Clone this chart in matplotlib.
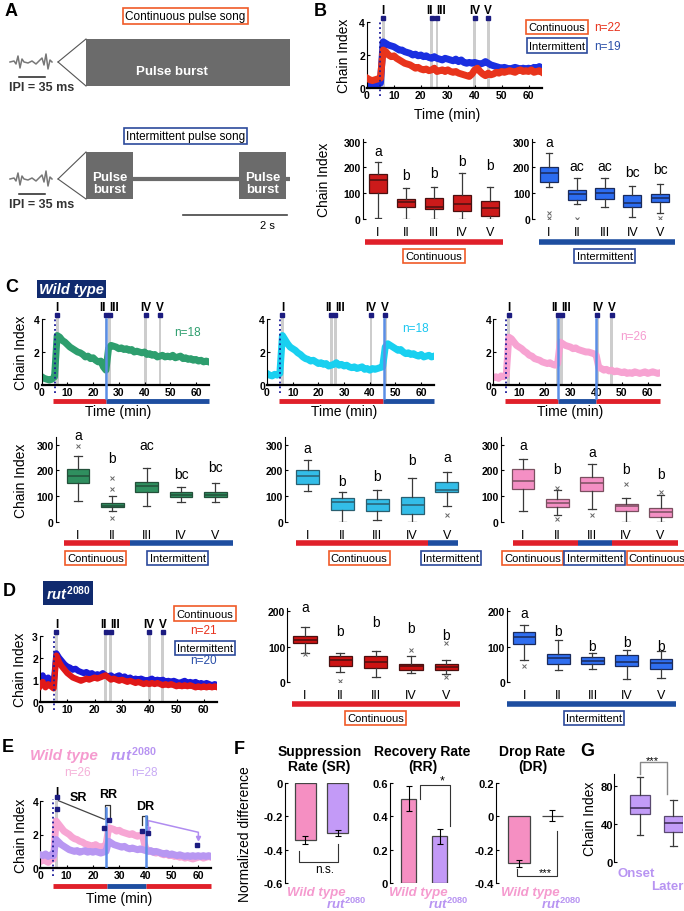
import numpy as np
import matplotlib
matplotlib.use('Agg')
import matplotlib.pyplot as plt
from matplotlib.patches import Rectangle

plt.rcParams['font.family'] = ['Liberation Sans', 'DejaVu Sans']
plt.rcParams['mathtext.fontset'] = 'custom'
plt.rcParams['mathtext.it'] = 'Liberation Sans:italic:bold'
plt.rcParams['mathtext.rm'] = 'Liberation Sans:bold'
plt.rcParams['mathtext.bf'] = 'Liberation Sans:bold'

# ---------------- data ----------------
minutes = np.arange(66)
epoch_names = ['I', 'II', 'III', 'IV', 'V']
epochs_B = [6, 24, 26, 40, 45]
epochs_C = [6, 25, 26.5, 40.5, 46]

b_cont = [0.6, 0.5, 0.45, 0.5, 0.55, 0.6, 2.3, 2.2, 2.0, 1.9, 1.95, 1.8, 1.7, 1.6, 1.5, 1.45, 1.4, 1.3, 1.2, 1.25,
          1.15, 1.1, 1.15, 1.05, 1.1, 1.2, 1.0, 1.05, 1.1, 1.0, 1.1, 1.0, 0.95, 1.0, 0.9, 0.85, 0.8, 0.75, 0.7, 0.85,
          1.1, 1.2, 1.0, 0.85, 0.75, 0.9, 0.8, 0.85, 0.95, 0.9, 1.0, 0.95, 1.0, 1.05, 1.0, 0.95, 1.05, 1.1, 1.0, 1.05,
          1.0, 1.1, 0.95, 1.0, 1.05, 0.95]
b_int = [0.2, 0.15, 0.2, 0.25, 0.2, 0.3, 2.8, 2.7, 2.6, 2.55, 2.5, 2.4, 2.3, 2.3, 2.2, 2.15, 2.1, 2.0, 2.05, 1.95,
         2.0, 1.9, 1.95, 1.85, 1.8, 1.9, 1.8, 1.75, 1.7, 1.8, 1.75, 1.7, 1.65, 1.75, 1.6, 1.7, 1.55, 1.5, 1.55, 1.5,
         1.55, 1.5, 1.45, 1.5, 1.6, 1.5, 1.4, 1.35, 1.3, 1.25, 1.2, 1.25, 1.2, 1.15, 1.2, 1.25, 1.2, 1.15, 1.2, 1.15,
         1.2, 1.15, 1.25, 1.2, 1.3, 1.2]
c_green = [0.5, 0.4, 0.35, 0.3, 0.35, 0.5, 3.0, 2.9, 2.7, 2.6, 2.45, 2.3, 2.2, 2.1, 2.0, 1.95, 1.85, 1.7, 1.75, 1.6,
           1.65, 1.5, 1.4, 1.45, 1.1, 0.9, 2.2, 2.4, 2.35, 2.3, 2.2, 2.25, 2.15, 2.2, 2.1, 2.15, 2.0, 2.05, 2.0, 1.95,
           2.0, 1.85, 1.9, 1.8, 1.85, 1.7, 1.75, 1.8, 1.7, 1.75, 1.7, 1.8, 1.65, 1.7, 1.75, 1.6, 1.65, 1.55, 1.6, 1.5,
           1.55, 1.45, 1.5, 1.4, 1.45, 1.4]
c_cyan = [0.7, 0.6, 0.55, 0.65, 0.6, 0.7, 3.0, 2.75, 2.5, 2.3, 2.2, 2.1, 1.95, 1.85, 1.7, 1.6, 1.55, 1.45, 1.5, 1.4,
          1.3, 1.35, 1.25, 1.3, 1.15, 1.2, 1.25, 1.35, 1.2, 1.25, 1.15, 1.2, 1.1, 1.05, 1.1, 1.0, 1.05, 1.1, 0.95, 1.0,
          0.9, 1.0, 0.95, 1.0, 1.05, 1.1, 2.3, 2.5, 2.4, 2.3, 2.2, 2.1, 2.15, 2.0, 1.9, 1.95, 1.85, 1.9, 1.8, 1.75,
          1.85, 1.7, 1.75, 1.8, 1.7, 1.75]
c_pink = [0.45, 0.5, 0.4, 0.55, 0.5, 0.6, 2.9, 2.8, 2.6, 2.4, 2.3, 2.2, 2.05, 1.95, 1.8, 1.75, 1.6, 1.55, 1.5, 1.4,
          1.35, 1.3, 1.35, 1.25, 1.2, 1.3, 2.6, 2.5, 2.4, 2.35, 2.3, 2.2, 2.25, 2.15, 2.1, 2.05, 2.0, 2.0, 1.95, 1.9,
          1.8, 1.05, 1.0, 0.9, 0.95, 0.85, 0.9, 0.8, 0.85, 0.8, 0.75, 0.8, 0.7, 0.75, 0.7, 0.8, 0.75, 0.7, 0.75, 0.8,
          0.7, 0.75, 0.8, 0.75, 0.7, 0.75]
d_int = [0.9, 1.2, 0.8, 1.1, 0.9, 0.8, 2.2, 2.0, 1.85, 1.7, 1.6, 1.55, 1.45, 1.5, 1.4, 1.35, 1.3, 1.35, 1.25, 1.3,
         1.2, 1.25, 1.2, 1.3, 1.2, 1.15, 1.2, 1.1, 1.15, 1.2, 1.1, 1.15, 1.05, 1.1, 1.0, 1.05, 1.0, 1.05, 1.0, 0.95,
         1.0, 1.05, 0.95, 1.0, 0.95, 1.0, 0.9, 0.95, 0.9, 0.95, 0.9, 0.85, 0.9, 0.95, 0.85, 0.9, 0.85, 0.9, 0.8, 0.85,
         0.8, 0.85, 0.8, 0.75, 0.8, 0.75]
d_cont = [0.7, 0.9, 0.65, 0.8, 0.7, 0.6, 2.1, 1.8, 1.6, 1.45, 1.3, 1.2, 1.1, 1.05, 1.0, 0.95, 1.0, 1.05, 1.0, 1.05,
          1.1, 1.05, 1.1, 1.15, 1.2, 1.1, 1.0, 1.05, 1.0, 0.95, 1.0, 0.95, 0.9, 0.95, 0.9, 0.85, 0.9, 0.85, 0.8, 0.85,
          0.8, 0.85, 0.8, 0.85, 0.8, 0.75, 0.8, 0.75, 0.8, 0.75, 0.7, 0.75, 0.7, 0.75, 0.7, 0.75, 0.7, 0.65, 0.7, 0.65,
          0.7, 0.65, 0.7, 0.65, 0.7, 0.65]
e_wt = [0.4, 0.5, 0.45, 0.35, 0.5, 0.55, 2.8, 2.6, 2.4, 2.2, 2.1, 2.0, 1.85, 1.75, 1.7, 1.6, 1.55, 1.45, 1.4, 1.35,
        1.3, 1.4, 1.3, 1.25, 1.3, 1.4, 2.4, 2.35, 2.3, 2.2, 2.25, 2.15, 2.1, 2.05, 2.0, 2.05, 1.95, 1.9, 1.95, 1.85,
        1.2, 1.05, 1.0, 0.95, 0.9, 0.95, 0.85, 0.8, 0.85, 0.75, 0.8, 0.7, 0.75, 0.65, 0.7, 0.6, 0.65, 0.6, 0.55, 0.6,
        0.65, 0.7, 0.6, 0.65, 0.7, 0.65]
e_rut = [0.8, 0.75, 0.85, 0.7, 0.8, 0.75, 1.7, 1.55, 1.4, 1.3, 1.2, 1.1, 1.05, 1.0, 1.05, 0.95, 1.0, 1.05, 0.95, 1.0,
         0.95, 1.0, 0.95, 0.9, 0.95, 1.0, 1.6, 1.5, 1.4, 1.35, 1.3, 1.25, 1.3, 1.2, 1.15, 1.2, 1.15, 1.1, 1.15, 1.1,
         1.05, 1.0, 1.05, 0.95, 1.0, 0.95, 0.9, 0.85, 0.9, 0.8, 0.85, 0.8, 0.75, 0.8, 0.75, 0.7, 0.75, 0.7, 0.75, 0.7,
         0.75, 0.7, 0.75, 0.7, 0.75, 0.7]

# box plots: median, q1, q3, whisker low, whisker high, fliers, letters, letter heights
bc_med = [150, 65, 47, 57, 43]
bc_q1 = [100, 45, 38, 30, 12]
bc_q3 = [175, 78, 80, 92, 70]
bc_lo = [5, 0, 0, 0, 0]
bc_hi = [220, 120, 123, 180, 125]
bc_fl = [[], [], [], [], []]
bc_let = ['a', 'b', 'b', 'b', 'b']
bc_ly = [265, 170, 178, 226, 210]

bi_med = [180, 98, 102, 62, 83]
bi_q1 = [143, 75, 78, 45, 67]
bi_q3 = [200, 112, 120, 93, 98]
bi_lo = [125, 57, 47, 8, 25]
bi_hi = [255, 160, 157, 128, 135]
bi_fl = [[25, 5], [0], [], [], [5]]
bi_let = ['a', 'ac', 'ac', 'bc', 'bc']
bi_ly = [297, 207, 207, 182, 192]

cg_med = [180, 63, 140, 105, 104]
cg_q1 = [152, 56, 115, 95, 95]
cg_q3 = [204, 72, 155, 117, 117]
cg_lo = [79, 40, 60, 75, 78]
cg_hi = [257, 100, 208, 137, 150]
cg_fl = [[295], [172, 127, 15], [], [], []]
cg_let = ['a', 'b', 'ac', 'bc', 'bc']
cg_ly = [339, 250, 300, 186, 214]

cc_med = [178, 75, 68, 65, 125]
cc_q1 = [145, 47, 42, 30, 115]
cc_q3 = [200, 92, 88, 95, 153]
cc_lo = [119, 0, 8, 0, 60]
cc_hi = [240, 115, 125, 172, 195]
cc_fl = [[], [], [], [], [25]]
cc_let = ['a', 'b', 'b', 'b', 'a']
cc_ly = [286, 160, 180, 240, 251]

cp_med = [160, 72, 150, 60, 37]
cp_q1 = [128, 57, 118, 40, 20]
cp_q3 = [205, 88, 173, 68, 55]
cp_lo = [42, 28, 50, 0, 0]
cp_hi = [245, 122, 225, 92, 103]
cp_fl = [[], [132, 10], [28], [145], [115]]
cp_let = ['a', 'b', 'a', 'b', 'b']
cp_ly = [299, 205, 271, 206, 184]

dc_med = [118, 62, 57, 45, 43]
dc_q1 = [110, 47, 40, 35, 35]
dc_q3 = [130, 73, 75, 52, 50]
dc_lo = [82, 28, 15, 25, 22]
dc_hi = [155, 83, 88, 75, 63]
dc_fl = [[80], [5], [], [92], [110, 15]]
dc_let = ['a', 'b', 'b', 'b', 'b']
dc_ly = [211, 145, 169, 152, 133]

di_med = [128, 67, 60, 58, 55]
di_q1 = [107, 52, 52, 45, 38]
di_q3 = [142, 80, 72, 78, 65]
di_lo = [62, 35, 38, 8, 13]
di_hi = [162, 118, 83, 92, 88]
di_fl = [[45], [], [], [], []]
di_let = ['a', 'b', 'b', 'b', 'b']
di_ly = [195, 145, 103, 113, 101]

# panel F: normalized differences (wild type, rut2080) and SEM
sr_vals, sr_err = [-0.34, -0.30], [0.022, 0.018]
rr_vals, rr_err = [0.505, 0.28], [0.075, 0.045]
dr_vals, dr_err = [-0.28, 0.005], [0.02, 0.035]

# panel G: onset vs later
g_med = [57, 41]
g_q1 = [50, 32]
g_q3 = [70, 48]
g_lo = [28, 17]
g_hi = [89, 65]

# colours
RED_BAR, BLUE_BAR = '#e0202a', '#1e4ea0'
CONT_EC, INT_EC = '#f05a28', '#2c4a9c'
NAVY = '#1c1c80'
PINK, LAV = '#f59bcf', '#b894f2'
TS_LW = 5.0

W, H = 684, 912
fig = plt.figure(figsize=(W / 100, H / 100), dpi=100)


def add_ax(x0, y0, x1, y1):
    return fig.add_axes([x0 / W, 1 - y1 / H, (x1 - x0) / W, (y1 - y0) / H])


def ftext(x, y, s, **kw):
    kw.setdefault('ha', 'center')
    kw.setdefault('va', 'center')
    return fig.text(x / W, 1 - y / H, s, **kw)


def label_box(ax, x, y, s, ec, trans=None, fs=8):
    ax.text(x, y, s, ha='center', va='center', fontsize=fs, clip_on=False,
            transform=trans if trans is not None else ax.get_xaxis_transform(),
            bbox=dict(boxstyle='square,pad=0.2', fc='white', ec=ec, lw=1.2))


def ts_axes(ax, ymax, yticks, ylab_x):
    ax.set_xlim(0, 65)
    ax.set_ylim(0, ymax)
    for s in ('top', 'right'):
        ax.spines[s].set_visible(False)
    ax.spines['left'].set_linewidth(0.8)
    ax.spines['bottom'].set_linewidth(1.6)
    xt = list(range(0, 61, 10))
    ax.set_xticks(xt, [str(v) for v in xt], fontweight='bold', fontsize=7.5)
    ax.set_yticks(yticks, [str(v) for v in yticks], fontweight='bold', fontsize=7.5)
    ax.tick_params(direction='in', length=2.5, width=0.8, pad=1.5)
    ax.set_ylabel('Chain Index', fontsize=10)
    ax.yaxis.set_label_coords(ylab_x, 0.5)


def draw_epochs(ax, times, show_labels=True):
    tr = ax.get_xaxis_transform()
    mid23 = (times[1] + times[2]) / 2
    xs = [times[0], mid23 - 0.7, mid23 + 0.7, times[3], times[4]]
    has = ['center', 'right', 'left', 'center', 'center']
    for t, lab, x, ha in zip(times, epoch_names, xs, has):
        sp = ax.axvspan(t - 0.55, t + 0.55, ymin=0, ymax=1.05, color='#cdcdcd', lw=0, zorder=0.5)
        sp.set_clip_on(False)
        if show_labels:
            ax.plot([t], [1.06], marker='s', ms=2.2, color=NAVY, transform=tr, clip_on=False)
            ax.text(x, 1.18, lab, ha=ha, va='center', fontsize=8.5, fontweight='bold', transform=tr)


def onset_line(ax):
    ax.plot([5, 5], [-0.12, 1.03], ls=':', color='#1c1c9a', lw=1.3,
            transform=ax.get_xaxis_transform(), clip_on=False, zorder=5)


def switch_line(ax, t, top=1.0):
    ax.plot([t, t], [-0.2, top], color='#5a8ee6', lw=1.8,
            transform=ax.get_xaxis_transform(), clip_on=False, zorder=4)


def cond_bar(ax, segs, y, lw=3.2):
    for a, b, c in segs:
        ax.plot([a, b], [y, y], color=c, lw=lw, solid_capstyle='butt',
                transform=ax.get_xaxis_transform(), clip_on=False)


def time_label(ax, y):
    ax.set_xlabel('Time (min)', fontsize=10)
    ax.xaxis.set_label_coords(0.46, y)


def box_panel(ax, med, q1, q3, lo, hi, fl, face, edge, xlim, ymax, yticks, letters, ly):
    stats = [dict(med=m, q1=a, q3=b, whislo=l, whishi=h, fliers=f)
             for m, a, b, l, h, f in zip(med, q1, q3, lo, hi, fl)]
    pos = np.arange(1, len(med) + 1)
    ax.bxp(stats, positions=pos, widths=0.66, patch_artist=True,
           boxprops=dict(facecolor=face, edgecolor=edge, linewidth=0.9),
           medianprops=dict(color=edge, linewidth=1.1),
           whiskerprops=dict(color='#3a3a3a', linewidth=0.9),
           capprops=dict(color='#3a3a3a', linewidth=0.9),
           flierprops=dict(marker='x', markersize=2.5, markeredgecolor='#666666', markeredgewidth=0.7),
           capwidths=0.22)
    ax.set_xlim(*xlim)
    ax.set_ylim(0, ymax)
    for s in ('top', 'right', 'bottom'):
        ax.spines[s].set_visible(False)
    ax.spines['left'].set_linewidth(0.8)
    ax.set_xticks(pos, ['I', 'II', 'III', 'IV', 'V'], fontsize=9)
    ax.set_yticks(yticks, [str(v) for v in yticks], fontweight='bold', fontsize=7.5)
    ax.tick_params(axis='x', length=0, pad=5)
    ax.tick_params(axis='y', direction='in', length=2.5, width=0.8, pad=1.5)
    for p, s, y in zip(pos, letters, ly):
        ax.text(p, y, s, ha='center', va='center', fontsize=10, clip_on=False)


# ---------------- panel A ----------------
axA = add_ax(0, 0, 310, 280)
axA.set_xlim(0, 310)
axA.set_ylim(280, 0)
axA.axis('off')
wave_dx = [0, 4, 6, 8, 10, 12, 14, 18, 22, 26, 30, 32, 34, 36, 38, 40, 42]
wave_dy = [0, -1, 2, -6, 6, -3, 0, 1, -1, 2, -2, -4, 3, -8, 7, -2, 0]


def song_icon(yc, y_top, y_bot):
    axA.plot([10 + d for d in wave_dx], [yc + d for d in wave_dy], color='#777777', lw=1.1)
    axA.plot([58, 86], [yc, y_top], color='#555555', lw=0.8)
    axA.plot([58, 86], [yc, y_bot], color='#555555', lw=0.8)
    axA.plot([19, 45], [yc + 15, yc + 15], color='#222222', lw=1.1)
    axA.text(42, yc + 25, 'IPI = 35 ms', ha='center', va='center', fontsize=9, fontweight='bold', color='#333333')


label_box(axA, 185.5, 17, 'Continuous pulse song', CONT_EC, trans=axA.transData, fs=8.5)
axA.add_patch(Rectangle((86, 40), 204, 47, fc='#6b6b6b', ec='none'))
axA.text(172, 72, 'Pulse burst', ha='center', va='center', color='white', fontsize=9.5, fontweight='bold')
song_icon(63, 40, 87)

label_box(axA, 185.5, 137, 'Intermittent pulse song', INT_EC, trans=axA.transData, fs=8.5)
axA.plot([133, 290], [180, 180], color='#6b6b6b', lw=3, solid_capstyle='butt')
for x0 in (86, 239):
    axA.add_patch(Rectangle((x0, 153), 47, 47, fc='#6b6b6b', ec='none'))
    axA.text(x0 + 23.5, 184, 'Pulse\nburst', ha='center', va='center', color='white',
             fontsize=9.5, fontweight='bold', linespacing=1.1)
song_icon(180, 153, 200)
axA.plot([183, 287], [216, 216], color='#444444', lw=1.2)
axA.text(267, 226, '2 s', ha='center', va='center', fontsize=8)

ftext(11, 12, 'A', fontsize=13, fontweight='bold')

# ---------------- panel B ----------------
ftext(320, 12, 'B', fontsize=13, fontweight='bold')
axB = add_ax(367, 23, 542, 89)
axB.plot(minutes, b_int, color='#1a2fe0', lw=TS_LW, zorder=2)
axB.plot(minutes, b_cont, color='#e8341c', lw=TS_LW, zorder=3)
ts_axes(axB, 4, [0, 2, 4], -0.09)
draw_epochs(axB, epochs_B)
onset_line(axB)
time_label(axB, -0.29)
ftext(557, 28, 'Continuous', fontsize=8,
      bbox=dict(boxstyle='square,pad=0.2', fc='white', ec=CONT_EC, lw=1.2))
ftext(594, 28, 'n=22', ha='left', fontsize=8.5, color='#e8321c')
ftext(557, 46.5, 'Intermittent', fontsize=8,
      bbox=dict(boxstyle='square,pad=0.2', fc='white', ec=INT_EC, lw=1.2))
ftext(594, 46.5, 'n=19', ha='left', fontsize=8.5, color='#2a4fa8')

axB1 = add_ax(362.6, 140, 504, 220)
box_panel(axB1, bc_med, bc_q1, bc_q3, bc_lo, bc_hi, bc_fl, '#cc1a1a', '#4a1010',
          (0.45, 5.5), 310, [0, 100, 200, 300], bc_let, bc_ly)
axB1.set_ylabel('Chain Index', fontsize=10)
axB1.yaxis.set_label_coords(-0.22, 0.5)
cond_bar(axB1, [(0.55, 5.45, RED_BAR)], -0.29, lw=4)
label_box(axB1, 3, -0.46, 'Continuous', CONT_EC)

axB2 = add_ax(532.3, 140, 674, 220)
box_panel(axB2, bi_med, bi_q1, bi_q3, bi_lo, bi_hi, bi_fl, '#2c6cf0', '#1a2a5a',
          (0.4, 5.5), 310, [0, 100, 200, 300], bi_let, bi_ly)
cond_bar(axB2, [(0.65, 5.55, BLUE_BAR)], -0.29, lw=4)
label_box(axB2, 3, -0.46, 'Intermittent', INT_EC)

# ---------------- panel C ----------------
ftext(12, 288, 'C', fontsize=13, fontweight='bold')
ftext(71.5, 290, 'Wild type', fontsize=10.5, fontweight='bold', fontstyle='italic', color='white',
      bbox=dict(boxstyle='square,pad=0.15', fc='#102a6e', ec='none'))

c_specs = [
    (41.7, c_green, '#2e9e6e', [(4.5, 25, RED_BAR), (25, 65, BLUE_BAR)], [25], (187, 333, 'n=18', '#2e9e6e')),
    (267.0, c_cyan, '#19d0f0', [(4.5, 45, RED_BAR), (45, 65, BLUE_BAR)], [45.5], (415, 329, 'n=18', '#19c6f0')),
    (493.4, c_pink, '#f7a3d2', [(4.5, 25, RED_BAR), (25, 40, BLUE_BAR), (40, 65, RED_BAR)], [25, 40],
     (633, 337, 'n=26', '#f59bcf')),
]
for i, (x0, ser, col, segs, sw, ntxt) in enumerate(c_specs):
    ax = add_ax(x0, 320, x0 + 65 * 2.57, 386)
    ax.plot(minutes, ser, color=col, lw=TS_LW, zorder=2)
    ts_axes(ax, 4, [0, 2, 4], -0.082)
    if i > 0:
        ax.set_ylabel('')
    draw_epochs(ax, epochs_C)
    onset_line(ax)
    for t in sw:
        switch_line(ax, t)
    cond_bar(ax, segs, -0.24, lw=3.5)
    time_label(ax, -0.29)
    ftext(ntxt[0], ntxt[1], ntxt[2], fontsize=8.5, color=ntxt[3])

axC1 = add_ax(55.7, 438, 234.3, 522.7)
box_panel(axC1, cg_med, cg_q1, cg_q3, cg_lo, cg_hi, cg_fl, '#2f8f5f', '#23503a',
          (0.35, 5.55), 330, [0, 100, 200, 300], cg_let, cg_ly)
axC1.set_ylabel('Chain Index', fontsize=10)
axC1.yaxis.set_label_coords(-0.155, 0.5)
cond_bar(axC1, [(0.58, 2.5, RED_BAR), (2.5, 5.5, BLUE_BAR)], -0.25, lw=4)
label_box(axC1, 1.52, -0.43, 'Continuous', CONT_EC)
label_box(axC1, 3.9, -0.43, 'Intermittent', INT_EC)

axC2 = add_ax(285, 438, 466, 522.7)
box_panel(axC2, cc_med, cc_q1, cc_q3, cc_lo, cc_hi, cc_fl, '#33bde8', '#2a5f70',
          (0.35, 5.55), 330, [0, 100, 200, 300], cc_let, cc_ly)
cond_bar(axC2, [(0.68, 4.45, RED_BAR), (4.45, 5.33, BLUE_BAR)], -0.25, lw=4)
label_box(axC2, 2.48, -0.43, 'Continuous', CONT_EC)
label_box(axC2, 5.12, -0.43, 'Intermittent', INT_EC)

axC3 = add_ax(500.6, 438, 679.5, 522.7)
box_panel(axC3, cp_med, cp_q1, cp_q3, cp_lo, cp_hi, cp_fl, '#f48fc4', '#7a5060',
          (0.35, 5.55), 330, [0, 100, 200, 300], cp_let, cp_ly)
cond_bar(axC3, [(0.7, 2.6, RED_BAR), (2.6, 3.6, BLUE_BAR), (3.6, 5.5, RED_BAR)], -0.25, lw=4)
label_box(axC3, 1.27, -0.43, 'Continuous', CONT_EC)
label_box(axC3, 3.08, -0.43, 'Intermittent', INT_EC)
label_box(axC3, 4.9, -0.43, 'Continuous', CONT_EC)

# ---------------- panel D ----------------
ftext(9, 592, 'D', fontsize=13, fontweight='bold')
ftext(68, 594, r'$\mathit{rut^{2080}}$', fontsize=10.5, color='white',
      bbox=dict(boxstyle='square,pad=0.2', fc='#102a6e', ec='none'))
axD = add_ax(40, 636.7, 40 + 65 * 2.73, 702.7)
axD.plot(minutes, d_int, color='#1a1ad8', lw=4.4, zorder=2)
axD.plot(minutes, d_cont, color='#e01818', lw=4.4, zorder=3)
ts_axes(axD, 3, [0, 1, 2, 3], -0.076)
draw_epochs(axD, epochs_B)
onset_line(axD)
ftext(205, 614.5, 'Continuous', fontsize=8,
      bbox=dict(boxstyle='square,pad=0.2', fc='white', ec=CONT_EC, lw=1.2))
ftext(203, 631, 'n=21', fontsize=8.5, color='#e8321c')
ftext(205, 649, 'Intermittent', fontsize=8,
      bbox=dict(boxstyle='square,pad=0.2', fc='white', ec=INT_EC, lw=1.2))
ftext(203, 661, 'n=20', fontsize=8.5, color='#2a4fa8')

axD1 = add_ax(287.4, 608.5, 463.9, 683.3)
box_panel(axD1, dc_med, dc_q1, dc_q3, dc_lo, dc_hi, dc_fl, '#cc1212', '#4a1010',
          (0.5, 5.5), 210, [0, 100, 200], dc_let, dc_ly)
cond_bar(axD1, [(0.64, 5.38, RED_BAR)], -0.29, lw=4)
label_box(axD1, 3, -0.48, 'Continuous', CONT_EC)

axD2 = add_ax(507, 608.5, 677.9, 683.3)
box_panel(axD2, di_med, di_q1, di_q3, di_lo, di_hi, di_fl, '#2f6ef0', '#1a2a5a',
          (0.5, 5.5), 210, [0, 100, 200], di_let, di_ly)
cond_bar(axD2, [(0.5, 5.45, BLUE_BAR)], -0.29, lw=4)
label_box(axD2, 3.05, -0.48, 'Intermittent', INT_EC)

# ---------------- panel E ----------------
ftext(8, 748, 'E', fontsize=13, fontweight='bold')
ftext(63.5, 756, 'Wild type', fontsize=11, fontweight='bold', fontstyle='italic', color=PINK)
ftext(133, 755, r'$\mathit{rut^{2080}}$', fontsize=11, color=LAV)
ftext(77, 773, 'n=26', fontsize=8.5, color='#f5b0d8')
ftext(144, 773, 'n=28', fontsize=8.5, color='#c8aaf5')

axE = add_ax(40.3, 801.7, 40.3 + 65 * 2.63, 869.3)
axE.plot(minutes, e_wt, color='#f7a6d4', lw=TS_LW, zorder=2)
axE.plot(minutes, e_rut, color='#b897f2', lw=TS_LW, zorder=3)
ts_axes(axE, 4, [0, 2, 4], -0.072)
sp = axE.axvspan(5.6, 6.6, color='#cdcdcd', lw=0, zorder=0.5)
onset_line(axE)
axE.plot([25, 25], [0, 3.55], color='#5a8ee6', lw=1.8, zorder=4)
axE.plot([40, 40], [0, 3.1], color='#5a8ee6', lw=1.8, zorder=4)
cond_bar(axE, [(5, 25.5, RED_BAR), (25.5, 40, BLUE_BAR), (40, 65, RED_BAR)], -0.26, lw=3.5)
time_label(axE, -0.34)
# SR / RR / DR annotations
ann_t = [6.2, 6.5, 24.3, 26.1, 38.5, 41.1, 59.7]
ann_v = [4.2, 3.5, 2.38, 2.88, 2.2, 2.07, 1.4]
axE.plot(ann_t, ann_v, ls='none', marker='s', ms=2.4, color=NAVY, clip_on=False, zorder=6)
axE.plot([6.9, 24.3], [4.0, 2.9], color='#444444', lw=0.9, clip_on=False)
axE.plot([24.6, 24.6, 26.5, 26.5], [3.0, 3.75, 3.75, 3.0], color='#333333', lw=0.9, clip_on=False)
axE.plot([38.5, 38.5, 40.5, 40.5], [2.55, 3.1, 3.1, 2.55], color='#333333', lw=0.9, clip_on=False)
axE.plot([41.1, 41.1, 60.1, 60.1], [2.3, 2.82, 2.13, 1.78], color='#b08cf0', lw=1.1, clip_on=False)
axE.plot([41.1, 60.1], [2.3, 1.78], ls='none', marker='v', ms=3, color='#b08cf0', clip_on=False)
axE.text(6.2, 4.5, 'I', ha='center', va='center', fontsize=8.5, fontweight='bold')
axE.text(14.5, 4.2, 'SR', ha='center', va='center', fontsize=9, fontweight='bold')
axE.text(25.9, 4.4, 'RR', ha='center', va='center', fontsize=9, fontweight='bold')
axE.text(39.8, 3.7, 'DR', ha='center', va='center', fontsize=9, fontweight='bold')

# ---------------- panel F ----------------
ftext(239, 750, 'F', fontsize=13, fontweight='bold')
BAR_FACES = ['#f58fc2', '#c39af7']


def bar_panel(ax, vals, errs, ylim, yticks, width, title):
    ax.bar([1, 2], vals, width=width, color=BAR_FACES, edgecolor='#444444', linewidth=0.9)
    ax.errorbar([1, 2], vals, yerr=errs, fmt='none', ecolor='black', elinewidth=0.8, capsize=2, capthick=0.8)
    ax.set_ylim(*ylim)
    for s in ('top', 'right', 'bottom'):
        ax.spines[s].set_visible(False)
    ax.spines['left'].set_linewidth(0.8)
    ax.set_xticks([])
    labs = ['0' if abs(v) < 1e-9 else f'{v:.1f}' for v in yticks]
    ax.set_yticks(yticks, labs, fontweight='bold', fontsize=8)
    ax.tick_params(axis='y', direction='in', length=2.5, width=0.8, pad=1.5)
    ax.set_title(title, fontsize=10, fontweight='bold', pad=9, linespacing=1.15)
    tr = ax.get_xaxis_transform()
    ax.text(1.33, -0.09, 'Wild type', ha='center', va='center', fontsize=9.5, fontweight='bold',
            fontstyle='italic', color=PINK, transform=tr, clip_on=False)
    ax.text(2.28, -0.2, r'$\mathit{rut^{2080}}$', ha='center', va='center', fontsize=9.5,
            color=LAV, transform=tr, clip_on=False)


axF1 = add_ax(284.9, 784, 353.9, 884.3)
bar_panel(axF1, sr_vals, sr_err, (-0.6, 0), [0, -0.2, -0.4, -0.6], 0.65, 'Suppression\nRate (SR)')
axF1.set_xlim(0.37, 2.5)
axF1.set_ylabel('Normalized difference', fontsize=10)
axF1.yaxis.set_label_coords(-0.48, 0.5)
axF1.plot([0.82, 0.82, 2.0, 2.0], [-0.405, -0.474, -0.474, -0.365], color='#333333', lw=0.8)
axF1.text(1.61, -0.514, 'n.s.', ha='center', va='center', fontsize=8.5)

axF2 = add_ax(390, 784, 455, 884.3)
bar_panel(axF2, rr_vals, rr_err, (0, 0.6), [0, 0.2, 0.4, 0.6], 0.46, 'Recovery Rate\n(RR)')
axF2.set_xlim(0.4, 2.5)
axF2.plot([1.36, 1.36, 2.34, 2.34], [0.504, 0.588, 0.588, 0.345], color='#333333', lw=0.8, clip_on=False)
axF2.text(2.07, 0.615, '*', ha='center', va='center', fontsize=9, clip_on=False)

axF3 = add_ax(496, 784, 569, 884.3)
bar_panel(axF3, dr_vals, dr_err, (-0.4, 0.2), [-0.4, -0.2, 0, 0.2], 0.65, 'Drop Rate\n(DR)')
axF3.set_xlim(0.31, 2.5)
axF3.plot([0.95, 0.95, 2.15, 2.15], [-0.314, -0.354, -0.354, -0.085], color='#333333', lw=0.8)
axF3.text(1.78, -0.334, '***', ha='center', va='center', fontsize=8)

# ---------------- panel G ----------------
ftext(587, 752, 'G', fontsize=13, fontweight='bold')
axG = add_ax(614.3, 775, 683.3, 863.3)
g_stats = [dict(med=m, q1=a, q3=b, whislo=l, whishi=h, fliers=[])
           for m, a, b, l, h in zip(g_med, g_q1, g_q3, g_lo, g_hi)]
axG.bxp(g_stats, positions=[1, 2], widths=0.58, patch_artist=True,
        boxprops=dict(facecolor='#c29cf7', edgecolor='#5a4a70', linewidth=0.9),
        medianprops=dict(color='#3a2a50', linewidth=1.1),
        whiskerprops=dict(color='#3a3a3a', linewidth=0.9),
        capprops=dict(color='#3a3a3a', linewidth=0.9), capwidths=0.2)
axG.set_xlim(0.23, 2.3)
axG.set_ylim(0, 92)
for s in ('top', 'right', 'bottom'):
    axG.spines[s].set_visible(False)
axG.spines['left'].set_linewidth(0.8)
axG.set_xticks([])
axG.set_yticks([0, 40, 80], ['0', '40', '80'], fontweight='bold', fontsize=8)
axG.tick_params(axis='y', direction='in', length=2.5, width=0.8, pad=1.0)
axG.set_ylabel('Chain Index', fontsize=10)
axG.yaxis.set_label_coords(-0.25, 0.5)
axG.plot([1, 1, 1.8, 1.8], [91.5, 104.3, 104.3, 71.3], color='#888888', lw=1.0, clip_on=False)
axG.text(1.37, 107, '***', ha='center', va='center', fontsize=8, clip_on=False)
trG = axG.get_xaxis_transform()
axG.text(0.9, -0.12, 'Onset', ha='center', va='center', fontsize=9.5, fontweight='bold', color=LAV,
         transform=trG, clip_on=False)
axG.text(1.83, -0.27, 'Later', ha='center', va='center', fontsize=9.5, fontweight='bold', color=LAV,
         transform=trG, clip_on=False)

fig.savefig('out.png', dpi=100)
